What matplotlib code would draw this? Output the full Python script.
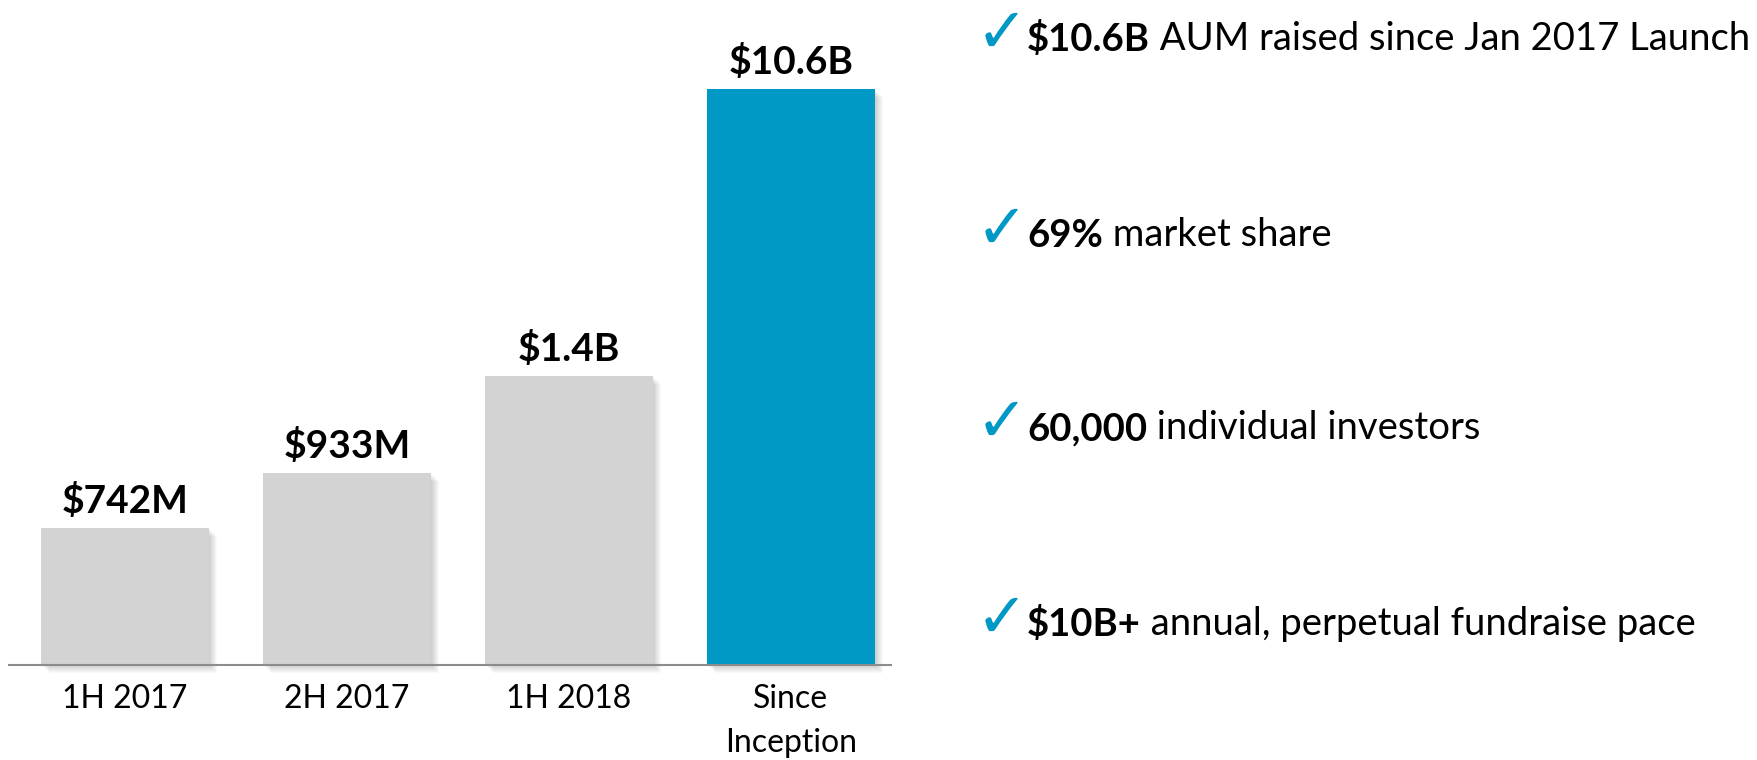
import matplotlib.pyplot as plt
from matplotlib.patches import Rectangle

plt.rcParams['font.family'] = ['Lato', 'DejaVu Sans']

# bars (heights as drawn on the slide, not to scale)
categories = ['1H 2017', '2H 2017', '1H 2018', 'Since\nInception']
bar_heights = [137, 192, 289, 576]
value_labels = ['$742M', '$933M', '$1.4B', '$10.6B']
bar_colors = ['#d3d3d3', '#d3d3d3', '#d3d3d3', '#0098c4']

# bullet points on the right
bullet_bold = ['$10.6B', '69%', '60,000', '$10B+']
bullet_text = ['AUM raised since Jan 2017 Launch', 'market share',
               'individual investors', 'annual, perpetual fundraise pace']

W, H = 1757, 760
fig = plt.figure(figsize=(W / 100, H / 100), dpi=100)

ax = fig.add_axes([9 / W, 95 / H, 882 / W, 665 / H])
ax.set_ylim(0, 665)
ax.set_xlim(-116 / 222, 766 / 222)
bw = 168 / 222

xs = range(len(categories))
# soft shadow behind each bar
for x, h in zip(xs, bar_heights):
    for k in range(1, 9):
        ax.add_patch(Rectangle((x - bw / 2 + k / 222, -k), bw, h, color='black',
                               alpha=0.025, lw=0, clip_on=False, zorder=1))
ax.bar(xs, bar_heights, width=bw, color=bar_colors, zorder=2)

for x, h, lab in zip(xs, bar_heights, value_labels):
    ax.text(x, h + 15, lab, ha='center', va='baseline', fontsize=28,
            fontweight='bold', color='black')

ax.set_xticks(list(xs))
ax.set_xticklabels(categories, fontsize=23, linespacing=1.56)
ax.tick_params(axis='x', length=0, pad=14)
ax.set_yticks([])
for s in ['top', 'left', 'right']:
    ax.spines[s].set_visible(False)
ax.spines['bottom'].set_color('#8c8c8c')
ax.spines['bottom'].set_linewidth(1.5)
ax.patch.set_alpha(0)

row_base = [51, 247, 440, 636]
for y, b, t in zip(row_base, bullet_bold, bullet_text):
    fy = 1 - y / H
    ax.plot([1001 / W], [1 - (y - 22) / H], marker=r'$\checkmark$', ms=24, mew=0,
            color='#0098c4', transform=fig.transFigure, clip_on=False)
    bt = fig.text(1027 / W, fy, b, fontsize=27.5, fontweight='bold', va='baseline', ha='left')
    ax.annotate(' ' + t, xy=(1, 0), xycoords=bt, va='bottom', ha='left',
                fontsize=27.5, annotation_clip=False)

fig.savefig('out.png', dpi=100)
